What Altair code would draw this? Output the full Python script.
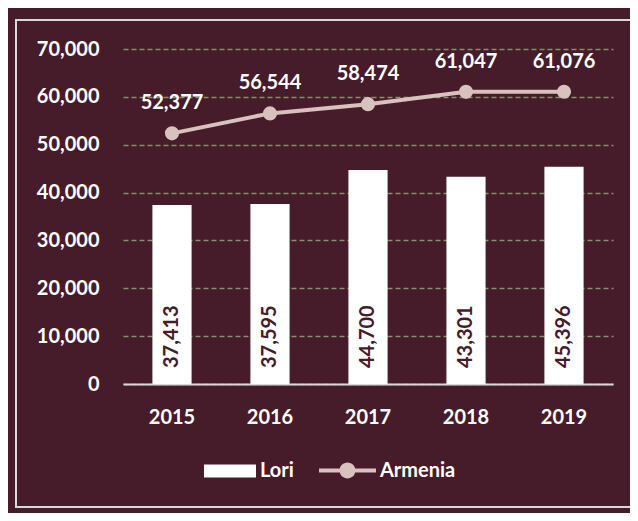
import altair as alt
import pandas as pd

years = ["2015", "2016", "2017", "2018", "2019"]
lori = [37413, 37595, 44700, 43301, 45396]
armenia = [52377, 56544, 58474, 61047, 61076]
y_ticks = [0, 10000, 20000, 30000, 40000, 50000, 60000, 70000]

df = pd.DataFrame({
    "year": years,
    "Lori": lori,
    "Armenia": armenia,
    "s1": ["Lori"] * len(years),
    "s2": ["Armenia"] * len(years),
})

BG = "#461b2a"
LINE = "#d8c1be"
GRID = "#85906f"
FRAME = "#d9d9d9"
FONT = "Lato"
FS = 20

x = alt.X(
    "year:N", title=None,
    scale=alt.Scale(paddingInner=0.6, paddingOuter=0.3),
    axis=alt.Axis(labelAngle=0, labelFont=FONT, labelFontSize=FS, labelFontWeight="bold",
                  labelColor="white", labelPadding=23, ticks=False, domainColor=FRAME,
                  domainWidth=2, grid=False),
)

y_axis = alt.Axis(values=y_ticks, labelExpr="format(datum.value, ',')", labelFont=FONT,
                  labelFontSize=FS, labelFontWeight="bold", labelColor="white", labelPadding=24,
                  grid=True, gridColor=GRID, gridDash=[5, 3], gridWidth=1.5,
                  domain=False, ticks=False)
yscale = alt.Scale(domain=[0, 70000])

base = alt.Chart(df)

frame = alt.Chart(pd.DataFrame({"f": [0]})).mark_rect(
    filled=False, stroke=FRAME, strokeWidth=2
).encode(x=alt.value(-107), x2=alt.value(540), y=alt.value(-29), y2=alt.value(458))

bars = base.mark_bar(color="white").encode(
    x=x,
    y=alt.Y("Lori:Q", title=None, scale=yscale, axis=y_axis),
    color=alt.Color("s1:N", scale=alt.Scale(domain=["Lori"], range=["white"]),
                    legend=alt.Legend(orient="none", legendX=81, legendY=396, title=None,
                                      symbolType="M-1,-0.25H1V0.25H-1Z", symbolSize=2704,
                                      symbolStrokeWidth=0, labelFont=FONT, labelFontSize=FS,
                                      labelFontWeight="bold", labelColor="white", labelOffset=4)),
)

bar_labels = base.mark_text(
    angle=270, align="left", baseline="middle", dx=16, font=FONT, fontSize=FS,
    fontWeight="bold", color=BG
).encode(
    x=x,
    y=alt.Y(datum=0, scale=yscale, axis=y_axis, title=None),
    text=alt.Text("Lori:Q", format=","),
)

line = base.mark_line(color=LINE, strokeWidth=4).encode(
    x=x,
    y=alt.Y("Armenia:Q", title=None, scale=yscale, axis=y_axis),
)

points = base.mark_point(filled=True, size=200, opacity=1).encode(
    x=x,
    y=alt.Y("Armenia:Q", title=None, scale=yscale, axis=y_axis),
    color=alt.Color("s2:N", scale=alt.Scale(domain=["Armenia"], range=[LINE]),
                    legend=alt.Legend(orient="none", legendX=196, legendY=393, title=None,
                                      symbolType="M-1,-0.07H1V0.07H-1Z M0.28,0A0.28,0.28 0 1,1 -0.28,0A0.28,0.28 0 1,1 0.28,0Z",
                                      symbolSize=3249, symbolStrokeWidth=0, symbolOpacity=1,
                                      labelFont=FONT, labelFontSize=FS, labelFontWeight="bold",
                                      labelColor="white", labelOffset=4)),
)

pt_labels = base.mark_text(
    baseline="alphabetic", dy=-24, font=FONT, fontSize=FS, fontWeight="bold", color="white"
).encode(
    x=x,
    y=alt.Y("Armenia:Q", title=None, scale=yscale, axis=y_axis),
    text=alt.Text("Armenia:Q", format=","),
)

chart = alt.layer(frame, bars, bar_labels, line, points, pt_labels).resolve_scale(
    color="independent"
).properties(
    width=490, height=335, background=BG,
    padding={"left": 115, "top": 41, "right": 17, "bottom": 129},
    autosize=alt.AutoSizeParams(type="none"),
).configure_view(stroke=None)

chart.save("out.html", embed_options={"renderer": "svg", "actions": False})
